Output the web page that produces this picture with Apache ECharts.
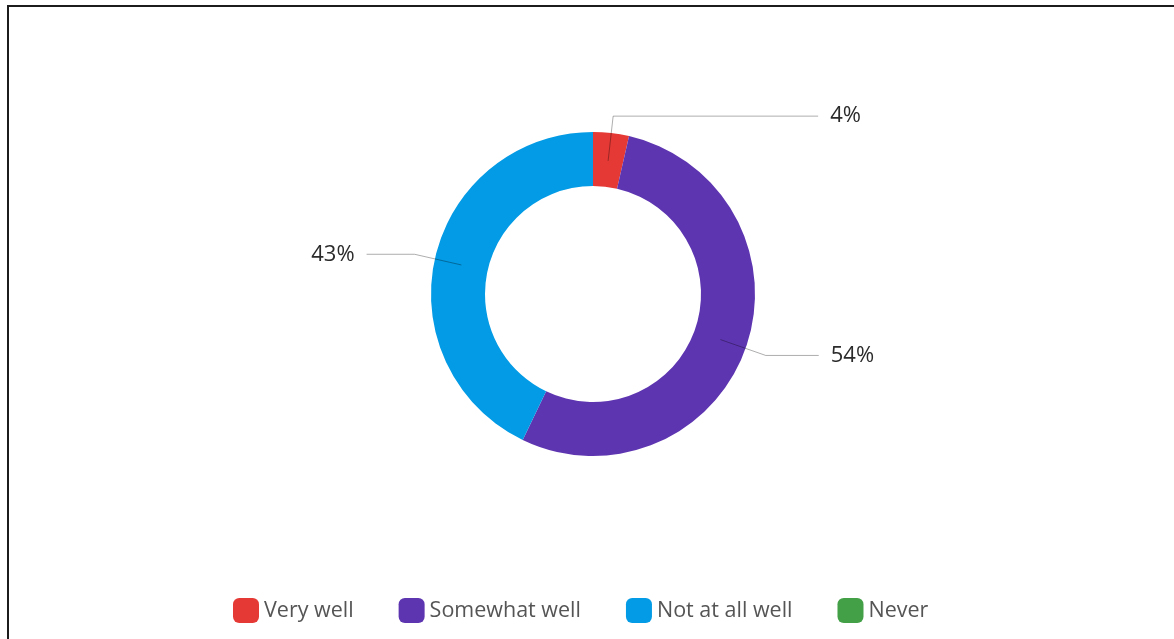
<!DOCTYPE html>
<html>
<head>
<meta charset="utf-8">
<script src="https://cdn.jsdelivr.net/npm/echarts@6/dist/echarts.min.js"></script>
<style>
  html, body { margin: 0; padding: 0; background: #fff; }
  #wrap { position: relative; width: 1174px; height: 639px; overflow: hidden; }
  #frame { position: absolute; left: 7px; top: 5px; right: -10px; bottom: -10px;
           border-top: 2px solid #1c1c1c; border-left: 2px solid #1c1c1c; }
  #chart { position: absolute; left: 0; top: 0; width: 1174px; height: 639px; }
</style>
</head>
<body>
<div id="wrap">
  <div id="chart"></div>
  <div id="frame"></div>
</div>
<script>
const categories = ['Very well', 'Somewhat well', 'Not at all well', 'Never'];
const counts = [1, 15, 12, 0];
const colors = ['#e53935', '#5e35b1', '#039be5', '#43a047'];

const FONT = '"Open Sans", "Noto Sans", sans-serif';
// leader line segment lengths (radial part, horizontal tail) per category
const leaderRadial = { 'Very well': 45, 'Somewhat well': 48, 'Not at all well': 48, 'Never': 48 };
const leaderTail = { 'Very well': 205, 'Somewhat well': 53, 'Not at all well': 48, 'Never': 40 };

const chart = echarts.init(document.getElementById('chart'), null, { renderer: 'canvas' });

const ringData = categories.map((name, i) => ({
  name: name, value: counts[i], itemStyle: { color: colors[i] }
}));

const labelData = categories.map((name, i) => {
  const item = {
    name: name, value: counts[i],
    itemStyle: { color: 'rgba(0,0,0,0)' },
    labelLine: { length: leaderRadial[name], length2: leaderTail[name] }
  };
  if (counts[i] === 0) {
    item.label = { show: false };
    item.labelLine = { show: false };
  }
  return item;
});

chart.setOption({
  animation: false,
  legend: {
    data: categories,
    left: 228,
    top: 593,
    itemWidth: 26,
    itemHeight: 25,
    itemGap: 45,
    icon: 'roundRect',
    textStyle: { fontFamily: FONT, fontSize: 21.5, color: '#555555' }
  },
  series: [{
    type: 'pie',
    name: 'ring',
    z: 2,
    center: [593, 294],
    radius: [108, 162],
    startAngle: 90,
    clockwise: true,
    data: ringData,
    label: { show: false },
    labelLine: { show: false },
    emphasis: { disabled: true }
  }, {
    type: 'pie',
    name: 'labels',
    z: 5,
    center: [593, 295],
    radius: [135, 135],
    startAngle: 90,
    clockwise: true,
    avoidLabelOverlap: false,
    legendHoverLink: false,
    silent: true,
    data: labelData,
    label: {
      show: true,
      position: 'outside',
      distanceToLabelLine: 12,
      fontFamily: FONT,
      fontSize: 22,
      color: '#2b2b2b',
      formatter: p => Math.round(p.percent) + '%'
    },
    labelLine: {
      show: true,
      length: 48,
      lineStyle: { color: 'rgba(0,0,0,0.32)', width: 1 }
    },
    emphasis: { disabled: true }
  }]
});
</script>
</body>
</html>
